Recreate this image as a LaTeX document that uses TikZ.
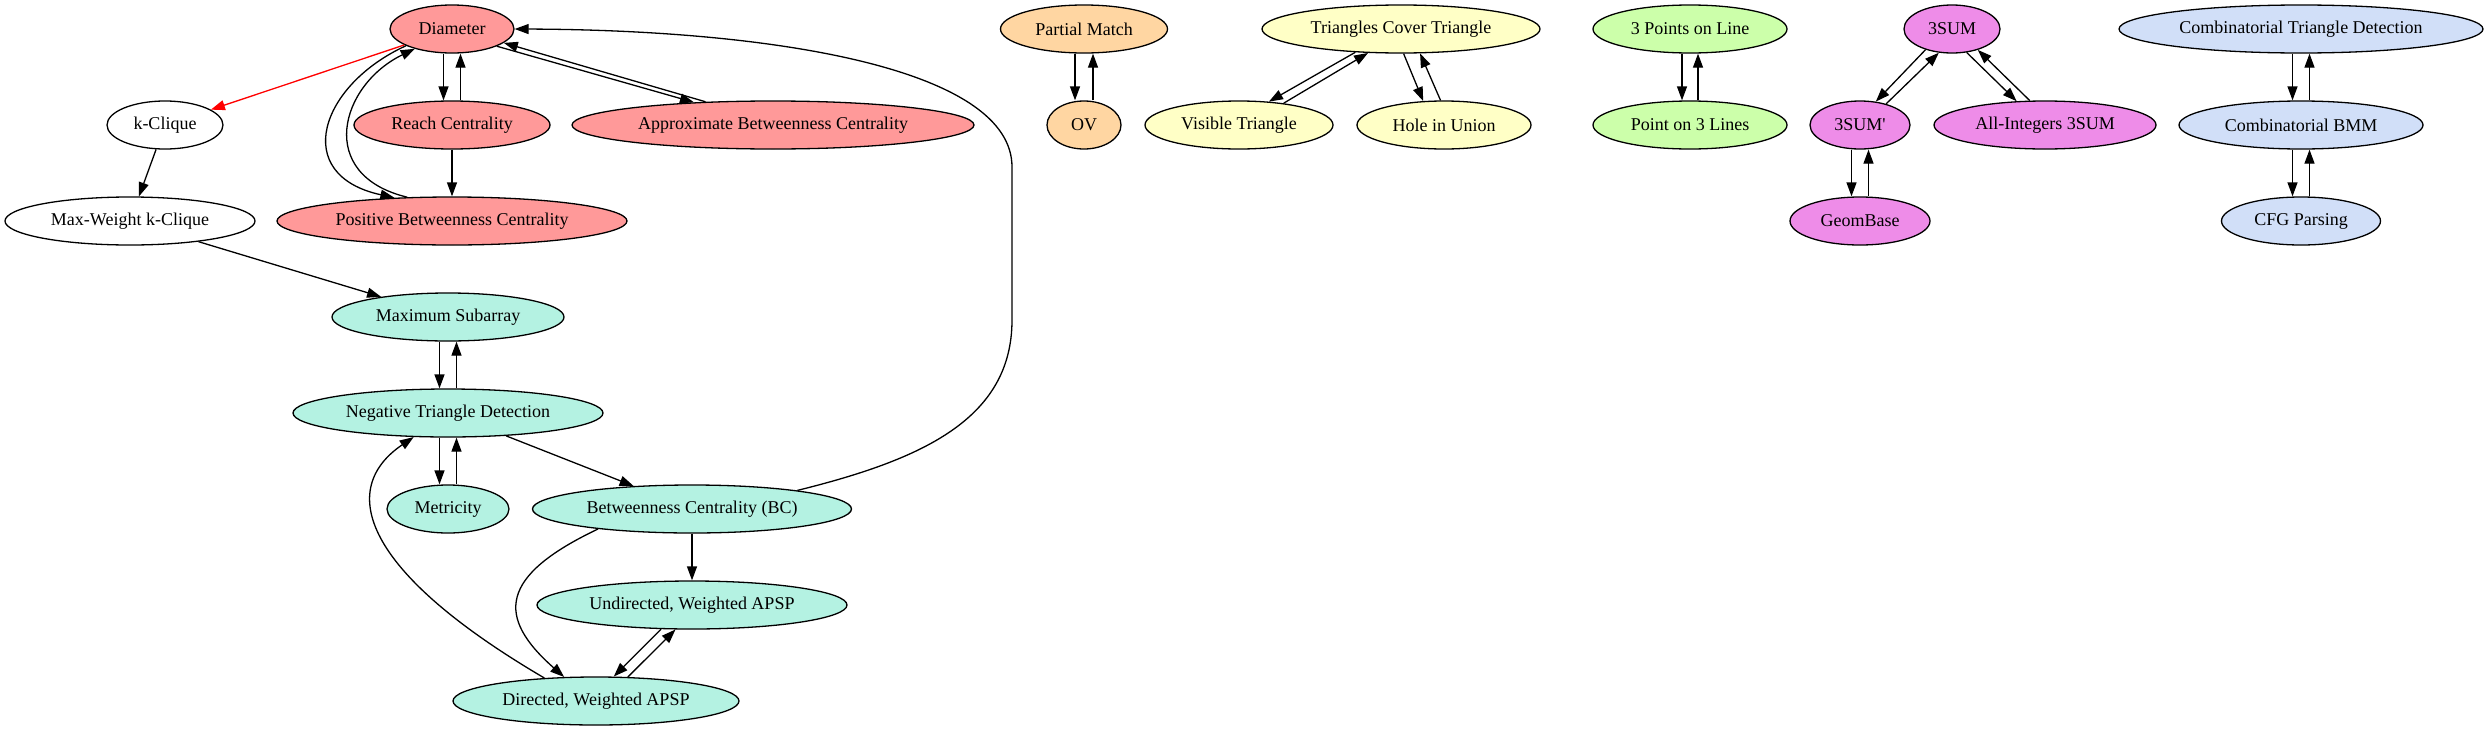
\documentclass[tikz,border=0pt]{standalone}
\usepackage{fontspec}
\setmainfont{Liberation Serif}
\usetikzlibrary{arrows.meta,shapes.geometric}
\definecolor{redfill}{HTML}{FF9999}
\definecolor{tealfill}{HTML}{B4F2E2}
\definecolor{orangefill}{HTML}{FFD6A2}
\definecolor{yellowfill}{HTML}{FFFFC6}
\definecolor{greenfill}{HTML}{CCFFAA}
\definecolor{violetfill}{HTML}{EE8CE8}
\definecolor{bluefill}{HTML}{D1DFF8}
\begin{document}
\begin{tikzpicture}[x=1pt,y=-1pt,
  prob/.style={ellipse,draw=black,line width=1.3pt,inner sep=0pt,
    minimum height=48pt,font=\fontsize{18}{20}\selectfont},
  arr/.style={line width=1.3pt,-{Triangle[length=14pt,width=10pt]}},
  redarr/.style={arr,red}]
  \useasboundingbox (0,0) rectangle (2489,731);
  \node[prob,fill=redfill,minimum width=124pt] (diam) at (452,29) {Diameter};
  \node[prob,fill=white,minimum width=116pt] (kclq) at (165,125) {k-Clique};
  \node[prob,fill=redfill,minimum width=196pt] (reach) at (452,125) {Reach Centrality};
  \node[prob,fill=redfill,minimum width=402pt] (apxbc) at (773,125) {Approximate Betweenness Centrality};
  \node[prob,fill=white,minimum width=250pt] (mwkc) at (130,221) {Max-Weight k-Clique};
  \node[prob,fill=redfill,minimum width=350pt] (posbc) at (452,221) {Positive Betweenness Centrality};
  \node[prob,fill=tealfill,minimum width=232pt] (maxsub) at (448,317) {Maximum Subarray};
  \node[prob,fill=tealfill,minimum width=310pt] (negtri) at (448,413) {Negative Triangle Detection};
  \node[prob,fill=tealfill,minimum width=122pt] (metric) at (448,509) {Metricity};
  \node[prob,fill=tealfill,minimum width=319pt] (bc) at (692,509) {Betweenness Centrality (BC)};
  \node[prob,fill=tealfill,minimum width=310pt] (uapsp) at (692,605) {Undirected, Weighted APSP};
  \node[prob,fill=tealfill,minimum width=286pt] (dapsp) at (596,701) {Directed, Weighted APSP};

  \node[prob,fill=orangefill,minimum width=167pt] (pmatch) at (1084,29) {Partial Match};
  \node[prob,fill=orangefill,minimum width=74pt] (ov) at (1084,125) {OV};

  \node[prob,fill=yellowfill,minimum width=278pt] (tct) at (1401,29) {Triangles Cover Triangle};
  \node[prob,fill=yellowfill,minimum width=188pt] (vistri) at (1239,125) {Visible Triangle};
  \node[prob,fill=yellowfill,minimum width=174pt] (hole) at (1444,125) {Hole in Union};

  \node[prob,fill=greenfill,minimum width=194pt] (threept) at (1690,29) {3 Points on Line};
  \node[prob,fill=greenfill,minimum width=194pt] (ptline) at (1690,125) {Point on 3 Lines};

  \node[prob,fill=violetfill,minimum width=96pt] (tsum) at (1952,29) {3SUM};
  \node[prob,fill=violetfill,minimum width=100pt] (tsump) at (1860,125) {3SUM\textquotesingle};
  \node[prob,fill=violetfill,minimum width=222pt] (allint) at (2045,125) {All-Integers 3SUM};
  \node[prob,fill=violetfill,minimum width=140pt] (geom) at (1860,221) {GeomBase};

  \node[prob,fill=bluefill,minimum width=364pt] (ctd) at (2301,29) {Combinatorial Triangle Detection};
  \node[prob,fill=bluefill,minimum width=244pt] (bmm) at (2301,125) {Combinatorial BMM};
  \node[prob,fill=bluefill,minimum width=159pt] (cfg) at (2301,221) {CFG Parsing};

  \draw[redarr] (diam) -- (kclq);
  \draw[arr] ([xshift=-8.5pt]diam.south) -- ([xshift=-8.5pt]reach.north);
  \draw[arr] ([xshift=8.5pt]reach.north) -- ([xshift=8.5pt]diam.south);
  \draw[arr] (diam.-21) -- (apxbc.164);
  \draw[arr] (apxbc.161) -- (diam.-15);
  \draw[arr] (diam.200) .. controls (320,85) and (290,175) .. (posbc.158);
  \draw[arr] (posbc.152) .. controls (315,175) and (340,85) .. (diam.208);
  \draw[arr] (kclq) -- (mwkc);
  \draw[arr] (reach) -- (posbc);
  \draw[arr] (mwkc) -- (maxsub);
  \draw[arr] ([xshift=-8.5pt]maxsub.south) -- ([xshift=-8.5pt]negtri.north);
  \draw[arr] ([xshift=8.5pt]negtri.north) -- ([xshift=8.5pt]maxsub.south);
  \draw[arr] ([xshift=-8.5pt]negtri.south) -- ([xshift=-8.5pt]metric.north);
  \draw[arr] ([xshift=8.5pt]metric.north) -- ([xshift=8.5pt]negtri.south);
  \draw[arr] (negtri) -- (bc);
  \draw[arr] (bc) -- (uapsp);
  \draw[arr] (bc.192) .. controls (499,576) and (496,617) .. (dapsp.143);
  \draw[arr] (uapsp.218) -- (dapsp.54);
  \draw[arr] (dapsp.37) -- (uapsp.236);
  \draw[arr] (dapsp.156) .. controls (362,571) and (337,489) .. (negtri.215);
  \draw[arr] (bc.10) .. controls (920,460) and (1012,420) .. (1012,320)
    -- (1012,167) .. controls (1012,70) and (780,30) .. (diam.east);

  \draw[arr] ([xshift=-9pt]pmatch.south) -- ([xshift=-9pt]ov.north);
  \draw[arr] ([xshift=9pt]ov.north) -- ([xshift=9pt]pmatch.south);

  \draw[arr] (tct.207) -- (vistri.38);
  \draw[arr] (vistri.26) -- (tct.216);
  \draw[arr] (tct.-84) -- (hole.131);
  \draw[arr] (hole.98) -- (tct.-52);

  \draw[arr] ([xshift=-8pt]threept.south) -- ([xshift=-8pt]ptline.north);
  \draw[arr] ([xshift=8pt]ptline.north) -- ([xshift=8pt]threept.south);

  \draw[arr] (tsum.218) -- (tsump.56);
  \draw[arr] (tsump.39) -- (tsum.241);
  \draw[arr] (tsum.-58) -- (allint.140);
  \draw[arr] (allint.122) -- (tsum.-39);
  \draw[arr] ([xshift=-8.5pt]tsump.south) -- ([xshift=-8.5pt]geom.north);
  \draw[arr] ([xshift=8.5pt]geom.north) -- ([xshift=8.5pt]tsump.south);

  \draw[arr] ([xshift=-8.5pt]ctd.south) -- ([xshift=-8.5pt]bmm.north);
  \draw[arr] ([xshift=8.5pt]bmm.north) -- ([xshift=8.5pt]ctd.south);
  \draw[arr] ([xshift=-8.5pt]bmm.south) -- ([xshift=-8.5pt]cfg.north);
  \draw[arr] ([xshift=8.5pt]cfg.north) -- ([xshift=8.5pt]bmm.south);
\end{tikzpicture}
\end{document}
